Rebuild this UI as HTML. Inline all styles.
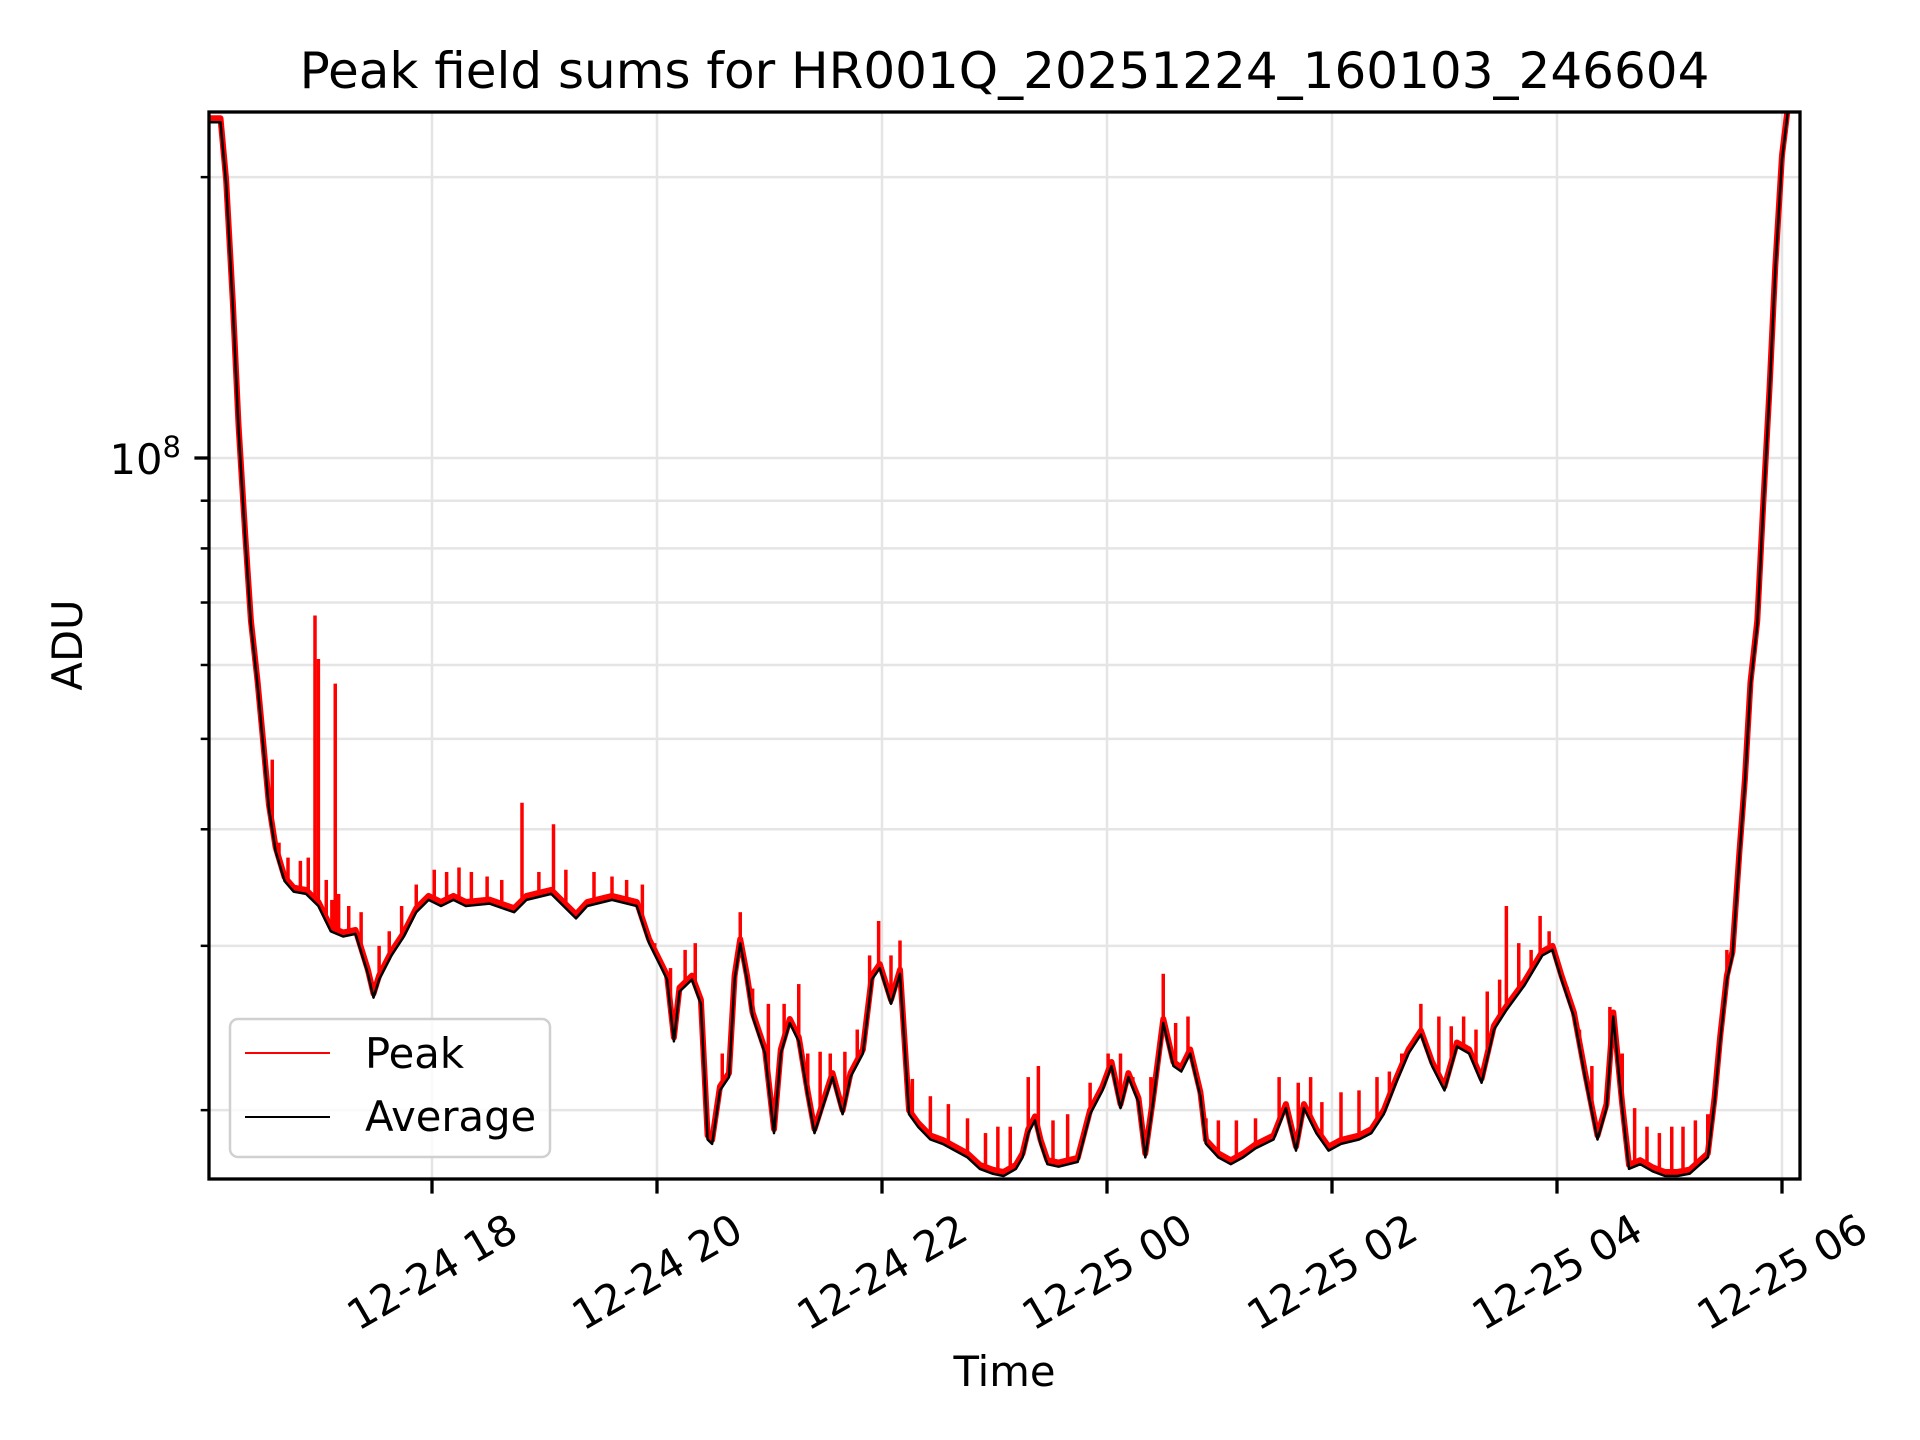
<!DOCTYPE html>
<html><head><meta charset="utf-8">
<style>
html,body{margin:0;padding:0;background:#fff;}
svg{display:block;font-family:"DejaVu Sans","Liberation Sans",sans-serif;}
</style></head>
<body>
<svg id="chart" width="1920" height="1440" viewBox="0 0 1920 1440" xmlns="http://www.w3.org/2000/svg">
<rect width="1920" height="1440" fill="#fff"/>
<defs><clipPath id="plotclip"><rect x="209" y="112" width="1591" height="1067"/></clipPath></defs>
<g id="grid"></g>
<g id="series" clip-path="url(#plotclip)"></g>
<g id="axes"></g>
<text x="1004.5" y="88" font-size="50" text-anchor="middle" fill="#000">Peak field sums for HR001Q_20251224_160103_246604</text>
<text x="1004.5" y="1386" font-size="41.7" text-anchor="middle" fill="#000">Time</text>
<text transform="translate(82,645) rotate(-90)" font-size="41.7" text-anchor="middle" fill="#000">ADU</text>
<g>
  <rect x="230" y="1019" width="320" height="138" rx="8" fill="#fff" fill-opacity="0.8" stroke="#d0d0d0" stroke-width="2.5"/>
  <line x1="245" y1="1053" x2="330" y2="1053" stroke="#ff0000" stroke-width="2"/>
  <text x="365" y="1068" font-size="41.7" fill="#000">Peak</text>
  <line x1="245" y1="1117" x2="330" y2="1117" stroke="#000" stroke-width="2"/>
  <text x="365" y="1131" font-size="41.7" fill="#000">Average</text>
</g>
</svg>
<script>
// times in hours since 2025-12-24 00:00; values in units of 1e7 ADU
const avgTimes = [16.02,16.12,16.17,16.23,16.28,16.34,16.39,16.45,16.50,16.55,16.61,16.69,16.77,16.88,16.99,17.10,17.21,17.32,17.43,17.48,17.53,17.64,17.75,17.86,17.97,18.08,18.19,18.30,18.51,18.73,18.84,19.06,19.28,19.38,19.60,19.82,19.93,20.04,20.09,20.15,20.20,20.31,20.39,20.45,20.49,20.56,20.64,20.69,20.74,20.80,20.85,20.96,21.04,21.10,21.18,21.26,21.34,21.40,21.47,21.56,21.65,21.72,21.83,21.91,21.98,22.08,22.16,22.24,22.32,22.43,22.54,22.65,22.76,22.87,22.98,23.08,23.19,23.25,23.30,23.36,23.41,23.47,23.57,23.74,23.85,23.96,24.04,24.12,24.19,24.28,24.34,24.41,24.50,24.59,24.66,24.74,24.83,24.88,24.99,25.10,25.21,25.32,25.48,25.59,25.68,25.75,25.86,25.97,26.08,26.24,26.35,26.46,26.57,26.68,26.79,26.89,27.00,27.11,27.22,27.33,27.44,27.55,27.71,27.87,27.96,28.04,28.15,28.25,28.36,28.44,28.50,28.58,28.64,28.74,28.85,28.96,29.07,29.18,29.34,29.40,29.45,29.51,29.56,29.62,29.67,29.72,29.78,29.83,29.89,29.94,30.00,30.05];
const avgValues = [22.9,22.9,19.7,14.5,10.75,8.2,6.63,5.7,4.90,4.21,3.79,3.52,3.43,3.41,3.31,3.11,3.07,3.09,2.80,2.64,2.76,2.93,3.07,3.26,3.36,3.31,3.36,3.31,3.33,3.26,3.36,3.41,3.21,3.31,3.36,3.31,3.02,2.84,2.76,2.37,2.68,2.76,2.60,1.86,1.84,2.10,2.17,2.76,3.02,2.76,2.52,2.30,1.89,2.30,2.48,2.37,2.07,1.89,2.01,2.17,1.98,2.17,2.30,2.76,2.84,2.60,2.80,1.98,1.92,1.86,1.84,1.81,1.78,1.73,1.71,1.70,1.73,1.78,1.89,1.95,1.84,1.75,1.74,1.76,1.98,2.10,2.23,2.01,2.17,2.04,1.78,2.04,2.48,2.23,2.20,2.30,2.07,1.84,1.78,1.75,1.78,1.82,1.86,2.01,1.81,2.01,1.89,1.81,1.84,1.86,1.89,1.98,2.14,2.30,2.41,2.23,2.10,2.34,2.30,2.14,2.44,2.56,2.72,2.93,2.97,2.76,2.52,2.17,1.86,2.01,2.52,2.01,1.73,1.75,1.72,1.70,1.70,1.71,1.78,2.04,2.37,2.76,2.93,3.73,4.48,5.70,6.63,8.7,11.8,15.9,20.9,23.4];
const spikeTimes = [16.58,16.64,16.72,16.83,16.90,16.96,16.99,17.06,17.11,17.14,17.17,17.26,17.37,17.53,17.62,17.73,17.86,18.02,18.13,18.24,18.35,18.49,18.62,18.80,18.95,19.08,19.19,19.44,19.60,19.73,19.87,19.98,20.12,20.25,20.34,20.58,20.67,20.74,20.85,20.99,21.13,21.26,21.34,21.45,21.54,21.67,21.78,21.89,21.97,22.08,22.16,22.27,22.43,22.59,22.76,22.92,23.03,23.14,23.30,23.39,23.52,23.65,23.85,24.01,24.12,24.23,24.39,24.50,24.61,24.72,24.88,24.99,25.15,25.32,25.53,25.70,25.81,25.91,26.08,26.24,26.40,26.51,26.62,26.79,26.95,27.06,27.17,27.28,27.38,27.49,27.55,27.66,27.77,27.85,27.93,28.09,28.20,28.31,28.47,28.58,28.69,28.80,28.91,29.02,29.12,29.23,29.34,29.51];
const spikeValues = [4.75,3.87,3.73,3.70,3.73,6.78,6.09,3.53,3.36,5.73,3.41,3.31,3.26,3.00,3.11,3.31,3.49,3.62,3.60,3.64,3.60,3.56,3.53,4.27,3.60,4.05,3.62,3.60,3.56,3.53,3.49,3.02,2.84,2.97,3.02,2.30,2.60,3.26,2.70,2.60,2.60,2.73,2.30,2.31,2.30,2.31,2.44,2.93,3.19,2.93,3.04,2.16,2.07,2.03,1.96,1.89,1.92,1.92,2.17,2.23,1.95,1.98,2.14,2.30,2.30,2.17,2.17,2.80,2.48,2.52,1.96,1.95,1.95,1.96,2.17,2.14,2.17,2.04,2.09,2.10,2.17,2.20,2.30,2.60,2.52,2.46,2.52,2.44,2.68,2.76,3.31,3.02,2.97,3.23,3.11,2.71,2.44,2.23,2.58,2.30,2.01,1.92,1.89,1.92,1.92,1.95,1.98,2.97];
const xTickHours = [18,20,22,24,26,28,30];
const xTickLabels = ["12-24 18","12-24 20","12-24 22","12-25 00","12-25 02","12-25 04","12-25 06"];
const yMinorValues = [2,3,4,5,6,7,8,9,20];

const NS = "http://www.w3.org/2000/svg";
const L = 209, R = 1800, T = 112, B = 1179;
function xs(h){ return 432 + (h - 18) * 112.5; }
function ys(v){ return 458 - 933 * Math.log10(v / 10); }
function mk(tag, attrs, parent){ const e = document.createElementNS(NS, tag); for (const k in attrs) e.setAttribute(k, attrs[k]); parent.appendChild(e); return e; }
const grid = document.getElementById('grid'), series = document.getElementById('series'), axes = document.getElementById('axes');

yMinorValues.forEach(v => {
  const y = ys(v);
  const g = mk('line', {x1:L, x2:R, y1:y, y2:y, stroke:'#e5e5e5', 'stroke-width':2.5}, grid);
  
  
  const t = mk('line', {x1:L-8.3, x2:L, y1:y, y2:y, stroke:'#000', 'stroke-width':2.5}, axes);
  
  
});
{
  const y = ys(10);
  const g = mk('line', {x1:L, x2:R, y1:y, y2:y, stroke:'#e5e5e5', 'stroke-width':2.5}, grid);
  
  
  const t = mk('line', {x1:L-14.6, x2:L, y1:y, y2:y, stroke:'#000', 'stroke-width':3.3}, axes);
  
  
  const lab = mk('text', {x:L-28, y:y+16, 'font-size':41.7, 'text-anchor':'end', fill:'#000'}, axes);
  
  
  lab.innerHTML = '10<tspan dy="-17" font-size="29">8</tspan>';
}
xTickHours.forEach((h, i) => {
  const x = xs(h);
  const g = mk('line', {x1:x, x2:x, y1:T, y2:B, stroke:'#e5e5e5', 'stroke-width':2.5}, grid);
  
  
  const t = mk('line', {x1:x, x2:x, y1:B, y2:B+14.6, stroke:'#000', 'stroke-width':3.3}, axes);
  
  
  const lab = mk('text', {transform:'translate(' + x + ',1272) rotate(-30)', 'font-size':41.7, 'text-anchor':'middle', 'dominant-baseline':'central', fill:'#000'}, axes);
  
  
  lab.textContent = xTickLabels[i];
});

function avgAt(h){
  for (let i = 0; i < avgTimes.length - 1; i++) {
    if (h >= avgTimes[i] && h <= avgTimes[i+1]) {
      const f = (h - avgTimes[i]) / (avgTimes[i+1] - avgTimes[i]);
      return avgValues[i] + f * (avgValues[i+1] - avgValues[i]);
    }
  }
  return avgValues[avgValues.length - 1];
}

// peak series: baseline follows avg (shifted slightly up so it shows), plus spikes
let pd = '';
avgTimes.forEach((t, i) => { pd += (i ? 'L' : 'M') + xs(t).toFixed(1) + ',' + (ys(avgValues[i]) - 4).toFixed(1); });
const peak = mk('path', {d:pd, fill:'none', stroke:'#ff0000', 'stroke-width':6, 'stroke-linejoin':'round'}, series);



spikeTimes.forEach((t, i) => {
  const x = xs(t);
  const s = mk('line', {x1:x, x2:x, y1:ys(avgAt(t)), y2:ys(spikeValues[i]), stroke:'#ff0000', 'stroke-width':3.5}, series);
  
  
});

let ad = '';
avgTimes.forEach((t, i) => { ad += (i ? 'L' : 'M') + xs(t).toFixed(1) + ',' + ys(avgValues[i]).toFixed(1); });
const avg = mk('path', {d:ad, fill:'none', stroke:'#000', 'stroke-width':2.5, 'stroke-linejoin':'round'}, series);



const frame = mk('rect', {x:L, y:T, width:R-L, height:B-T, fill:'none', stroke:'#000', 'stroke-width':3.3}, axes);


</script>
</body></html>
